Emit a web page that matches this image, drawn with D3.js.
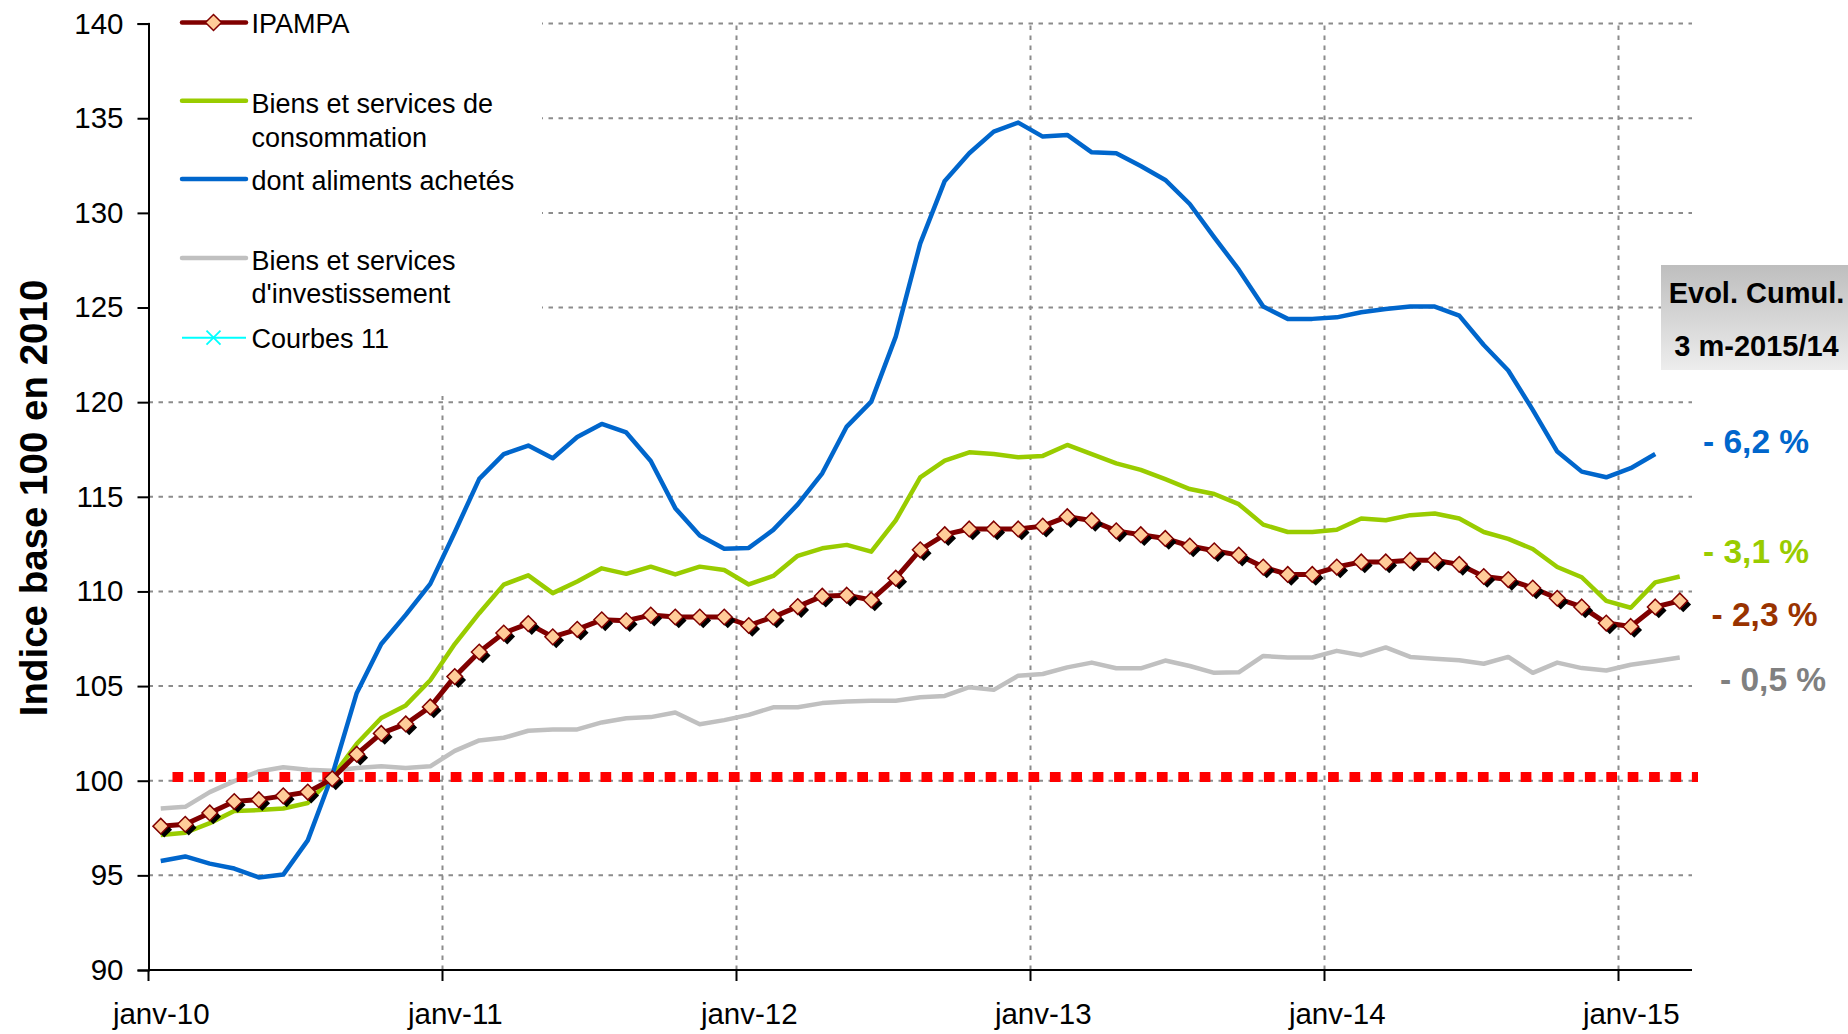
<!DOCTYPE html>
<html lang="fr">
<head>
<meta charset="utf-8">
<title>IPAMPA – indices base 100 en 2010</title>
<script src="https://cdn.jsdelivr.net/npm/d3@7/dist/d3.min.js"></script>
<style>
  html, body { margin: 0; padding: 0; background: #ffffff; }
  svg { display: block; }
  text { font-family: "Liberation Sans", Arial, Helvetica, sans-serif; }
</style>
</head>
<body>
<svg id="chart" width="1848" height="1034"></svg>
<script>
// Monthly categories, January 2010 to March 2015
const monthNames = ["janv", "févr", "mars", "avr", "mai", "juin", "juil", "août", "sept", "oct", "nov", "déc"];
const yearSuffixes = ["10", "11", "12", "13", "14", "15"];
const lastYearMonths = 3;

// IPAMPA (indice général)
const ipampa = [
  97.6, 97.7, 98.3, 98.9, 99.0, 99.2, 99.4, 100.1, 101.4, 102.5, 103.0, 103.9,
  105.5, 106.8, 107.8, 108.3, 107.6, 108.0, 108.5, 108.45, 108.75, 108.65, 108.65, 108.65,
  108.2, 108.65, 109.2, 109.75, 109.8, 109.55, 110.7, 112.2, 113.0, 113.3, 113.3, 113.3,
  113.45, 113.95, 113.75, 113.2, 113.0, 112.8, 112.4, 112.15, 111.92, 111.29, 110.9, 110.9,
  111.29, 111.56, 111.56, 111.65, 111.65, 111.43, 110.79, 110.63, 110.18, 109.64, 109.18, 108.33,
  108.15, 109.18, 109.5
];

// Biens et services de consommation
const consommation = [
  97.13, 97.25, 97.76, 98.4, 98.45, 98.53, 98.82, 100.2, 101.95, 103.31, 103.98, 105.31,
  107.22, 108.85, 110.36, 110.85, 109.91, 110.53, 111.22, 110.93, 111.31, 110.9, 111.31, 111.13,
  110.37, 110.82, 111.88, 112.28, 112.46, 112.1, 113.75, 116.03, 116.91, 117.35, 117.26, 117.09,
  117.16, 117.74, 117.26, 116.77, 116.42, 115.93, 115.41, 115.15, 114.61, 113.53, 113.14, 113.14,
  113.26, 113.85, 113.76, 114.03, 114.12, 113.85, 113.14, 112.78, 112.24, 111.29, 110.75, 109.5,
  109.14, 110.48, 110.79
];

// dont aliments achetés (no value yet for March 2015)
const aliments = [
  95.76, 96.0, 95.62, 95.36, 94.89, 95.04, 96.85, 100.3, 104.64, 107.22, 108.76, 110.4,
  113.13, 115.95, 117.25, 117.71, 117.04, 118.16, 118.85, 118.4, 116.89, 114.4, 112.95, 112.25,
  112.3, 113.25, 114.6, 116.24, 118.71, 120.03, 123.46, 128.39, 131.69, 133.15, 134.29, 134.77,
  134.03, 134.12, 133.2, 133.15, 132.48, 131.74, 130.47, 128.71, 127.0, 125.05, 124.4, 124.4,
  124.48, 124.75, 124.92, 125.05, 125.05, 124.57, 123.02, 121.67, 119.59, 117.39, 116.33, 116.03,
  116.51, 117.26
];

// Biens et services d'investissement
const investissement = [
  98.53, 98.62, 99.4, 99.98, 100.49, 100.71, 100.58, 100.53, 100.67, 100.76, 100.67, 100.76,
  101.58, 102.13, 102.27, 102.64, 102.71, 102.71, 103.08, 103.3, 103.36, 103.6, 102.98, 103.2,
  103.48, 103.88, 103.88, 104.1, 104.18, 104.23, 104.23, 104.41, 104.48, 104.94, 104.8, 105.55,
  105.64, 105.99, 106.24, 105.94, 105.94, 106.35, 106.06, 105.7, 105.73, 106.59, 106.51, 106.51,
  106.86, 106.63, 107.04, 106.54, 106.45, 106.36, 106.18, 106.54, 105.7, 106.24, 105.95, 105.82,
  106.13, 106.31, 106.51
];

// Base-100 reference level
const referenceLevel = 100.2;

// Axis ticks
const yTicks = [90, 95, 100, 105, 110, 115, 120, 125, 130, 135, 140];
const xTickLabels = ["janv-10", "janv-11", "janv-12", "janv-13", "janv-14", "janv-15"];

// Cumulative change, first 3 months 2015 vs 2014
const evolTitle = ["Evol. Cumul.", "3 m-2015/14"];
const evolLabels = ["- 6,2 %", "- 3,1 %", "- 2,3 %", "- 0,5 %"];

// Legend entries
const legendNames = [
  ["IPAMPA"],
  ["Biens et services de", "consommation"],
  ["dont aliments achetés"],
  ["Biens et services", "d'investissement"],
  ["Courbes 11"]
];

// ---------------------------------------------------------------------------
const categories = [];
yearSuffixes.forEach((yr, k) => {
  const n = k === yearSuffixes.length - 1 ? lastYearMonths : 12;
  for (let m = 0; m < n; m++) categories.push(monthNames[m] + "-" + yr);
});

const COLORS = {
  ipampa: "#800000",
  diamond: "#FFCC99",
  conso: "#99CC00",
  alim: "#0066CC",
  invest: "#C0C0C0",
  courbes: "#00FFFF",
  ref: "#FF0000",
  grid: "#8C8C8C"
};

const svg = d3.select("#chart");
const plot = { left: 148.5, right: 1692, top: 23.6, bottom: 970 };

const x = d3.scalePoint().domain(categories).range([plot.left, plot.right]).padding(0.5);
const step = x.step();
const y = d3.scaleLinear().domain([90, 140]).range([plot.bottom, plot.top]);

// Gridlines
const grid = svg.append("g").attr("class", "grid");
grid.selectAll("line.h")
  .data(yTicks.filter(v => v > 90))
  .join("line")
  .attr("class", "h")
  .attr("x1", plot.left).attr("x2", plot.right)
  .attr("y1", d => y(d)).attr("y2", d => y(d))
  .attr("stroke", COLORS.grid).attr("stroke-width", 2)
  .attr("stroke-dasharray", "4.5,5.5");

const yearStarts = xTickLabels.map(l => x(l) - step / 2);
grid.selectAll("line.v")
  .data(yearStarts.slice(1))
  .join("line")
  .attr("class", "v")
  .attr("x1", d => d).attr("x2", d => d)
  .attr("y1", plot.bottom).attr("y2", plot.top)
  .attr("stroke", COLORS.grid).attr("stroke-width", 2)
  .attr("stroke-dasharray", "4.5,5.5");

// Series lines
const lineGen = d3.line()
  .x((d, i) => x(categories[i]))
  .y(d => y(d));

svg.append("path").datum(investissement)
  .attr("d", lineGen).attr("fill", "none")
  .attr("stroke", COLORS.invest).attr("stroke-width", 4.5).attr("stroke-linejoin", "round");

svg.append("path").datum(consommation)
  .attr("d", lineGen).attr("fill", "none")
  .attr("stroke", COLORS.conso).attr("stroke-width", 4.5).attr("stroke-linejoin", "round");

svg.append("path").datum(aliments)
  .attr("d", lineGen).attr("fill", "none")
  .attr("stroke", COLORS.alim).attr("stroke-width", 4.5).attr("stroke-linejoin", "round");

// Reference line at base 100
svg.append("line")
  .attr("x1", x(categories[0]) + step / 2 - 0.5)
  .attr("x2", plot.right + 6)
  .attr("y1", y(referenceLevel)).attr("y2", y(referenceLevel))
  .attr("stroke", COLORS.ref).attr("stroke-width", 10)
  .attr("stroke-dasharray", "10.7,10.7");

// IPAMPA line with shadowed diamond markers
svg.append("path").datum(ipampa)
  .attr("d", lineGen).attr("fill", "none")
  .attr("stroke", COLORS.ipampa).attr("stroke-width", 5).attr("stroke-linejoin", "round");

const diamond = r => `M0,${-r}L${r},0L0,${r}L${-r},0Z`;
const markers = svg.append("g");
markers.selectAll("path.shadow")
  .data(ipampa)
  .join("path")
  .attr("class", "shadow")
  .attr("d", diamond(7.8))
  .attr("transform", (d, i) => `translate(${x(categories[i]) + 3.5},${y(d) + 3.5})`)
  .attr("fill", "#000");
markers.selectAll("path.mark")
  .data(ipampa)
  .join("path")
  .attr("class", "mark")
  .attr("d", diamond(7.8))
  .attr("transform", (d, i) => `translate(${x(categories[i])},${y(d)})`)
  .attr("fill", COLORS.diamond).attr("stroke", COLORS.ipampa).attr("stroke-width", 1.5);

// Legend (opaque box over the top-left of the plot)
const legend = svg.append("g");
legend.append("rect")
  .attr("x", plot.left + 1).attr("y", 0)
  .attr("width", 542 - plot.left - 1).attr("height", 396)
  .attr("fill", "#ffffff");

const legendRows = [
  { sym: 22.5, base: [33.3], color: COLORS.ipampa, kind: "diamond" },
  { sym: 100.7, base: [113.3, 146.7], color: COLORS.conso, kind: "line" },
  { sym: 179, base: [190], color: COLORS.alim, kind: "line" },
  { sym: 258, base: [270, 303.3], color: COLORS.invest, kind: "line" },
  { sym: 337.7, base: [347.7], color: COLORS.courbes, kind: "cross" }
];
legendRows.forEach((row, k) => {
  const g = legend.append("g");
  g.append("line")
    .attr("x1", 182).attr("x2", 246)
    .attr("y1", row.sym).attr("y2", row.sym)
    .attr("stroke", row.color)
    .attr("stroke-width", row.kind === "cross" ? 2 : 4.5)
    .attr("stroke-linecap", row.kind === "cross" ? "butt" : "round");
  if (row.kind === "diamond") {
    g.append("path").attr("d", diamond(8))
      .attr("transform", `translate(213.5,${row.sym})`)
      .attr("fill", COLORS.diamond).attr("stroke", COLORS.ipampa).attr("stroke-width", 1.5);
  } else if (row.kind === "cross") {
    g.append("path").attr("d", "M-7,-7L7,7M-7,7L7,-7")
      .attr("transform", `translate(213.5,${row.sym})`)
      .attr("stroke", row.color).attr("stroke-width", 1.8).attr("fill", "none");
  }
  legendNames[k].forEach((t, j) => {
    g.append("text")
      .attr("x", 251.5).attr("y", row.base[j])
      .attr("font-size", 27).attr("fill", "#000")
      .text(t);
  });
});

// Y axis
const yAxis = d3.axisLeft(y).tickValues(yTicks).tickSize(11).tickPadding(14);
const gy = svg.append("g").attr("transform", `translate(${plot.left},0)`).call(yAxis);
gy.select(".domain").attr("stroke", "#000").attr("stroke-width", 2);
gy.selectAll(".tick line").attr("stroke", "#000").attr("stroke-width", 2);
gy.selectAll(".tick text")
  .attr("font-family", "Liberation Sans, Arial, sans-serif")
  .attr("font-size", 29.5).attr("fill", "#000");

// X axis: labels centred on January, ticks on year boundaries
const xAxis = d3.axisBottom(x).tickValues(xTickLabels).tickSize(0).tickPadding(0);
const gx = svg.append("g").attr("transform", `translate(0,${plot.bottom})`).call(xAxis);
gx.select(".domain").remove();
gx.selectAll(".tick text")
  .attr("font-family", "Liberation Sans, Arial, sans-serif")
  .attr("font-size", 29.5).attr("fill", "#000")
  .attr("dy", null).attr("y", 54);
svg.append("line")
  .attr("x1", plot.left).attr("x2", plot.right)
  .attr("y1", plot.bottom).attr("y2", plot.bottom)
  .attr("stroke", "#000").attr("stroke-width", 2);
svg.selectAll("line.xtick")
  .data(yearStarts)
  .join("line")
  .attr("class", "xtick")
  .attr("x1", d => d).attr("x2", d => d)
  .attr("y1", plot.bottom).attr("y2", plot.bottom + 11)
  .attr("stroke", "#000").attr("stroke-width", 2);

// Y axis title
svg.append("text")
  .attr("transform", "translate(47,498) rotate(-90)")
  .attr("text-anchor", "middle")
  .attr("font-size", 38.5).attr("font-weight", "bold").attr("fill", "#000")
  .text("Indice base 100 en 2010");

// "Evol. Cumul." box
const defs = svg.append("defs");
const grad = defs.append("linearGradient").attr("id", "evolGrad")
  .attr("x1", 0).attr("y1", 0).attr("x2", 0).attr("y2", 1);
grad.append("stop").attr("offset", "0%").attr("stop-color", "#BEBEBE");
grad.append("stop").attr("offset", "100%").attr("stop-color", "#EDEDED");
svg.append("rect")
  .attr("x", 1661).attr("y", 265).attr("width", 190).attr("height", 105)
  .attr("fill", "url(#evolGrad)");
[303.3, 356].forEach((b, j) => {
  svg.append("text")
    .attr("x", 1756.5).attr("y", b).attr("text-anchor", "middle")
    .attr("font-size", 29).attr("font-weight", "bold").attr("fill", "#000")
    .text(evolTitle[j]);
});

// Cumulative change labels
const evolStyle = [
  { x: 1703, y: 453, color: "#0066CC" },
  { x: 1703, y: 563, color: "#99CC00" },
  { x: 1711.5, y: 626, color: "#993300" },
  { x: 1720, y: 691, color: "#808080" }
];
evolStyle.forEach((s, j) => {
  svg.append("text")
    .attr("x", s.x).attr("y", s.y)
    .attr("font-size", 33.5).attr("font-weight", "bold").attr("fill", s.color)
    .text(evolLabels[j]);
});
</script>
</body>
</html>
